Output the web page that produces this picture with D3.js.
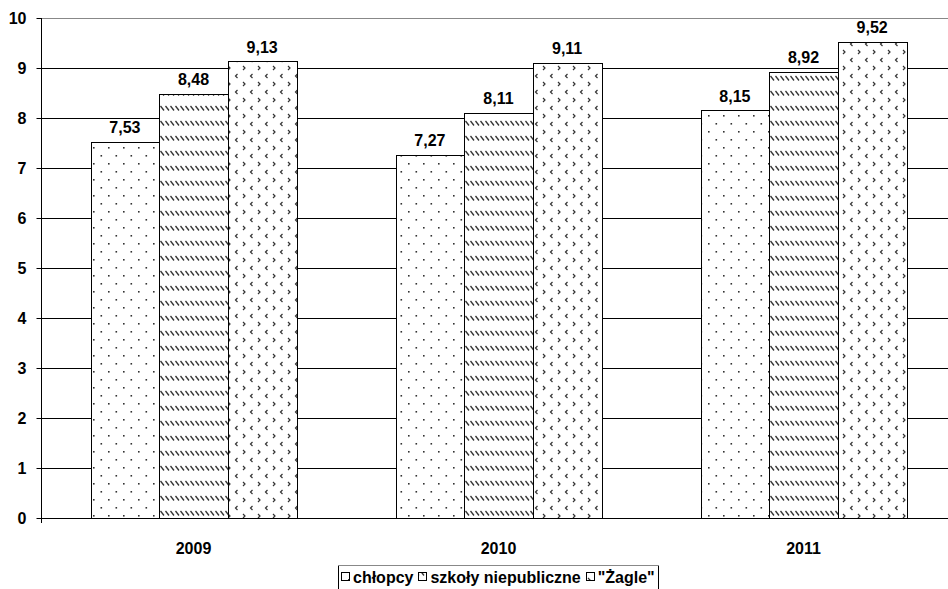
<!DOCTYPE html>
<html><head><meta charset="utf-8">
<script src="https://cdn.jsdelivr.net/npm/d3@7"></script>
<style>body{margin:0;background:#fff}svg{display:block}text{font-family:Arial,"Liberation Sans",sans-serif;font-weight:bold;fill:#000}</style>
</head><body><svg id="c" width="948" height="589"></svg>
<script>
const categories = ["2009","2010","2011"];
const seriesNames = ["chłopcy","szkoły niepubliczne","\"Żagle\""];
const chlopcy = [7.53,7.27,8.15];
const niepubliczne = [8.48,8.11,8.92];
const zagle = [9.13,9.11,9.52];
const seriesValues = [chlopcy, niepubliczne, zagle];
const yTicks = [0,1,2,3,4,5,6,7,8,9,10];

const FONT = "Arial, 'Liberation Sans', sans-serif";
const svg = d3.select("#c");
const defs = svg.append("defs");
// patterns
const p1 = defs.append("pattern").attr("id","pat0").attr("patternUnits","userSpaceOnUse").attr("width",15).attr("height",16);
p1.append("rect").attr("width",15).attr("height",16).attr("fill","#fff");
p1.append("rect").attr("x",3).attr("y",3).attr("width",1.6).attr("height",1.6).attr("fill","#333");
p1.append("rect").attr("x",10.5).attr("y",11).attr("width",1.6).attr("height",1.6).attr("fill","#333");

const p2 = defs.append("pattern").attr("id","pat1").attr("patternUnits","userSpaceOnUse").attr("width",5).attr("height",15);
p2.append("rect").attr("width",5).attr("height",15).attr("fill","#fff");
p2.append("line").attr("x1",0.5).attr("y1",1).attr("x2",4).attr("y2",5.5).attr("stroke","#333").attr("stroke-width",1.3);

const p3 = defs.append("pattern").attr("id","pat2").attr("patternUnits","userSpaceOnUse").attr("width",15).attr("height",16);
p3.append("rect").attr("width",15).attr("height",16).attr("fill","#fff");
p3.append("path").attr("d","M3,2 L5,4 L3,6").attr("fill","none").attr("stroke","#333").attr("stroke-width",1.2);
p3.append("path").attr("d","M12.5,10 L10.5,12 L12.5,14").attr("fill","none").attr("stroke","#333").attr("stroke-width",1.2);

const x0 = d3.scaleBand().domain(categories).range([41,956]).paddingInner(0.325).paddingOuter(0.1625);
const x1 = d3.scaleBand().domain(d3.range(3)).range([0,x0.bandwidth()]);
const y = d3.scaleLinear().domain([0,10]).range([518,18]);

// gridlines
svg.append("g").selectAll("line").data(yTicks.filter(t=>t>0)).join("line")
  .attr("x1",41).attr("x2",948).attr("y1",d=>y(d)+0.5).attr("y2",d=>y(d)+0.5)
  .attr("stroke",d=>d===10?"#888":"#000").attr("stroke-width",1);

// bars
const g = svg.append("g");
categories.forEach((c,i)=>{
  seriesValues.forEach((vals,s)=>{
    const bx = x0(c)+x1(s), v=vals[i];
    g.append("rect").attr("x",Math.round(bx)+0.5).attr("y",Math.round(y(v))+0.5)
      .attr("width",Math.round(x1.bandwidth())).attr("height",Math.round(y(0))-Math.round(y(v)))
      .attr("fill",`url(#pat${s})`).attr("stroke","#000").attr("stroke-width",1);
    g.append("text").attr("x",bx+x1.bandwidth()/2).attr("y",y(v)-9)
      .attr("text-anchor","middle").attr("font-size",16).text(d3.format(".2f")(v).replace(".",","));
  });
});

// y axis
const ya = svg.append("g").attr("transform","translate(41.5,0)")
  .call(d3.axisLeft(y).tickValues(yTicks).tickSize(5).tickPadding(10).tickFormat(d3.format("d")));
ya.select(".domain").attr("d","M0,18V523").attr("stroke","#000");
ya.selectAll(".tick line").attr("stroke","#000");
ya.selectAll("text").attr("font-size",16).attr("font-family",FONT).attr("font-weight","bold").attr("fill","#000");

// x axis
const xa = svg.append("g").attr("transform","translate(0,518.5)")
  .call(d3.axisBottom(x0).tickSize(0).tickPadding(24));
xa.select(".domain").attr("d","M41,0H948").attr("stroke","#000");
xa.selectAll("text").attr("font-size",16).attr("font-family",FONT).attr("font-weight","bold").attr("fill","#000");

// legend (laid out from measured text widths, centred under plot)
const lg = svg.append("g");
const box = lg.append("rect");
const border = lg.append("line");
const items = seriesNames.map((n,i)=>{
  const sq = lg.append("rect").attr("width",8).attr("height",8)
    .attr("fill",`url(#pat${i})`).attr("stroke","#000");
  const t = lg.append("text").attr("y",583).attr("font-size",16).text(n);
  return {sq,t,w:t.node().getComputedTextLength()};
});
const sqW=9, gapIn=3, gapOut=5, pad=3;
const total = pad*2 + d3.sum(items,d=>sqW+gapIn+d.w) + gapOut*(items.length-1);
let cx = 498 - total/2;
const left = Math.round(cx);
cx = left + pad;
items.forEach(d=>{
  d.sq.attr("x",Math.round(cx)+0.5).attr("y",572.5);
  d.t.attr("x",cx+sqW+gapIn);
  cx += sqW+gapIn+d.w+gapOut;
});
box.attr("x",left+0.5).attr("y",565.5).attr("width",Math.round(total)).attr("height",30).attr("fill","#fff").attr("stroke","#000");
border.attr("x1",left).attr("x2",left+Math.round(total)+1).attr("y1",565.5).attr("y2",565.5).attr("stroke","#888");
box.lower();
</script></body></html>
